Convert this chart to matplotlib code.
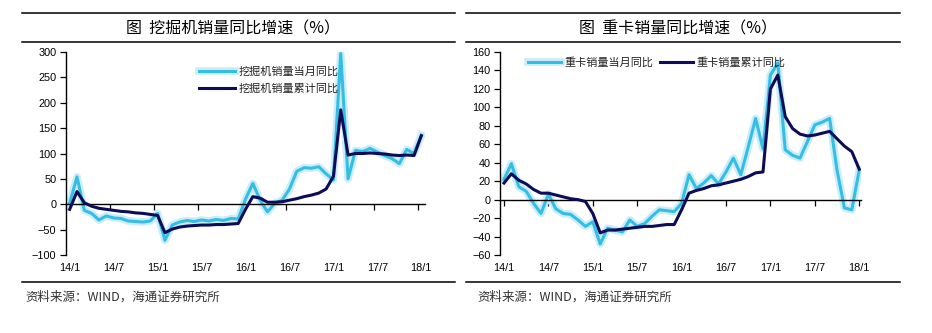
import matplotlib
matplotlib.use('Agg')
import matplotlib.pyplot as plt
import matplotlib.patheffects as pe
from matplotlib.lines import Line2D
import numpy as np

plt.rcParams['font.family'] = ['Liberation Sans', 'Noto Sans CJK SC']

# monthly data, 2014/1 .. 2018/1
tick_labels = ['14/1', '14/7', '15/1', '15/7', '16/1', '16/7', '17/1', '17/7', '18/1']

# excavator sales yoy (%)
exc_month = [2, 54, -12, -18, -31, -23, -27, -28, -33, -34,
             -35, -33, -18, -71, -41, -35, -32, -34, -31, -33,
             -30, -32, -28, -29, 10, 41, 8, -15, 2, 8,
             30, 65, 72, 71, 74, 60, 48, 297, 50, 106,
             104, 110, 103, 96, 90, 80, 108, 100, 136]
exc_cum = [-10, 25, 3, -4, -8, -10, -12, -14, -15, -17,
           -18, -20, -22, -56, -49, -45, -43, -42, -41, -41,
           -40, -40, -39, -38, -10, 15, 12, 4, 4, 5,
           8, 11, 15, 18, 22, 30, 55, 186, 97, 100,
           100, 101, 100, 99, 97, 96, 97, 96, 135]

# heavy truck sales yoy (%)
truck_month = [22, 39, 14, 9, -4, -15, 6, -10, -15, -16,
               -22, -29, -24, -48, -31, -33, -35, -22, -29, -26,
               -18, -11, -12, -13, -4, 27, 12, 18, 26, 17,
               30, 45, 27, 57, 88, 55, 135, 148, 54, 48,
               45, 63, 81, 84, 88, 32, -9, -11, 32]
truck_cum = [18, 28, 21, 17, 11, 7, 7, 5, 3, 1,
             0, -2, -15, -36, -33, -33, -32, -31, -30, -29,
             -29, -28, -27, -27, -11, 7, 10, 12, 15, 16,
             18, 20, 22, 25, 29, 30, 120, 135, 90, 77,
             71, 69, 70, 72, 74, 66, 58, 52, 33]

CYAN = '#35BDE3'
NAVY = '#0C0C58'
glow = [pe.Stroke(linewidth=5.5, foreground='#C9EEFA'), pe.Normal()]

W, H = 932, 333
fig = plt.figure(figsize=(W / 100, H / 100), dpi=100)


def fx(x):
    return x / W


def fy(y):
    return 1 - y / H


# panel rules, titles and source notes
for x0, x1 in [(22, 455), (466, 900)]:
    for y in (13, 42, 282):
        fig.add_artist(Line2D([fx(x0), fx(x1)], [fy(y), fy(y)], color='black', lw=1.1))

fig.text(fx(233), fy(29), '图  挖掘机销量同比增速（%）', ha='center', va='center',
         fontsize=11.5, family=['Noto Sans CJK SC'])
fig.text(fx(678), fy(29), '图  重卡销量同比增速（%）', ha='center', va='center',
         fontsize=11.5, family=['Noto Sans CJK SC'])
for x in (25, 477):
    fig.text(fx(x), fy(297), '资料来源：WIND，海通证券研究所', ha='left', va='center',
             fontsize=9, color='#333333', family=['Noto Sans CJK SC', 'Liberation Sans'])


def style(ax, ylim, yticks, xlim, xticks, label_pos):
    ax.set_xlim(*xlim)
    ax.set_ylim(*ylim)
    ax.set_yticks(yticks)
    ax.set_xticks(xticks)
    for s in ('top', 'right'):
        ax.spines[s].set_visible(False)
    ax.spines['bottom'].set_position(('data', 0))
    ax.spines['left'].set_linewidth(1)
    ax.spines['bottom'].set_linewidth(1)
    ax.tick_params(axis='y', direction='out', length=4, width=0.9, labelsize=7.8, pad=3)
    ax.tick_params(axis='x', direction='out', length=4, width=0.9, labelbottom=False)
    for pos, lab in zip(label_pos, tick_labels):
        ax.text(pos, -0.064, lab, transform=ax.get_xaxis_transform(),
                ha='center', va='center', fontsize=7.8)


x = np.arange(len(exc_month))

# left: excavators
ax1 = fig.add_axes([fx(66), fy(255), 359 / W, 203 / H])
ax1.plot(x, exc_month, color=CYAN, lw=2.2, path_effects=glow,
         solid_joinstyle='round', label='挖掘机销量当月同比', zorder=2)
ax1.plot(x, exc_cum, color=NAVY, lw=2.2, solid_joinstyle='round',
         label='挖掘机销量累计同比', zorder=3)
style(ax1, (-100, 300), np.arange(-100, 301, 50), (-0.5, 48.5),
      np.arange(-0.5, 48, 6), np.arange(0, 49, 6))
ax1.legend(loc='upper left', bbox_to_anchor=(0.37, 0.93), frameon=False,
           fontsize=8, handlelength=3.3, handletextpad=0.3, labelspacing=0.6,
           borderpad=0, borderaxespad=0, labelcolor='#222222')

# right: heavy trucks
ax2 = fig.add_axes([fx(500.3), fy(255), 360.4 / W, 203 / H])
ax2.plot(x, truck_month, color=CYAN, lw=2.2, path_effects=glow,
         solid_joinstyle='round', label='重卡销量当月同比', zorder=2)
ax2.plot(x, truck_cum, color=NAVY, lw=2.2, solid_joinstyle='round',
         label='重卡销量累计同比', zorder=3)
style(ax2, (-60, 160), np.arange(-60, 161, 20), (-0.5, 48.2),
      np.arange(0, 49, 6), np.arange(0, 49, 6))
ax2.legend(loc='upper left', bbox_to_anchor=(0.076, 0.975), frameon=False, ncol=2,
           fontsize=8, handlelength=3.0, handletextpad=0.3, columnspacing=0.6,
           borderpad=0, borderaxespad=0, labelcolor='#222222')

fig.savefig('out.png', dpi=100, facecolor='white')
